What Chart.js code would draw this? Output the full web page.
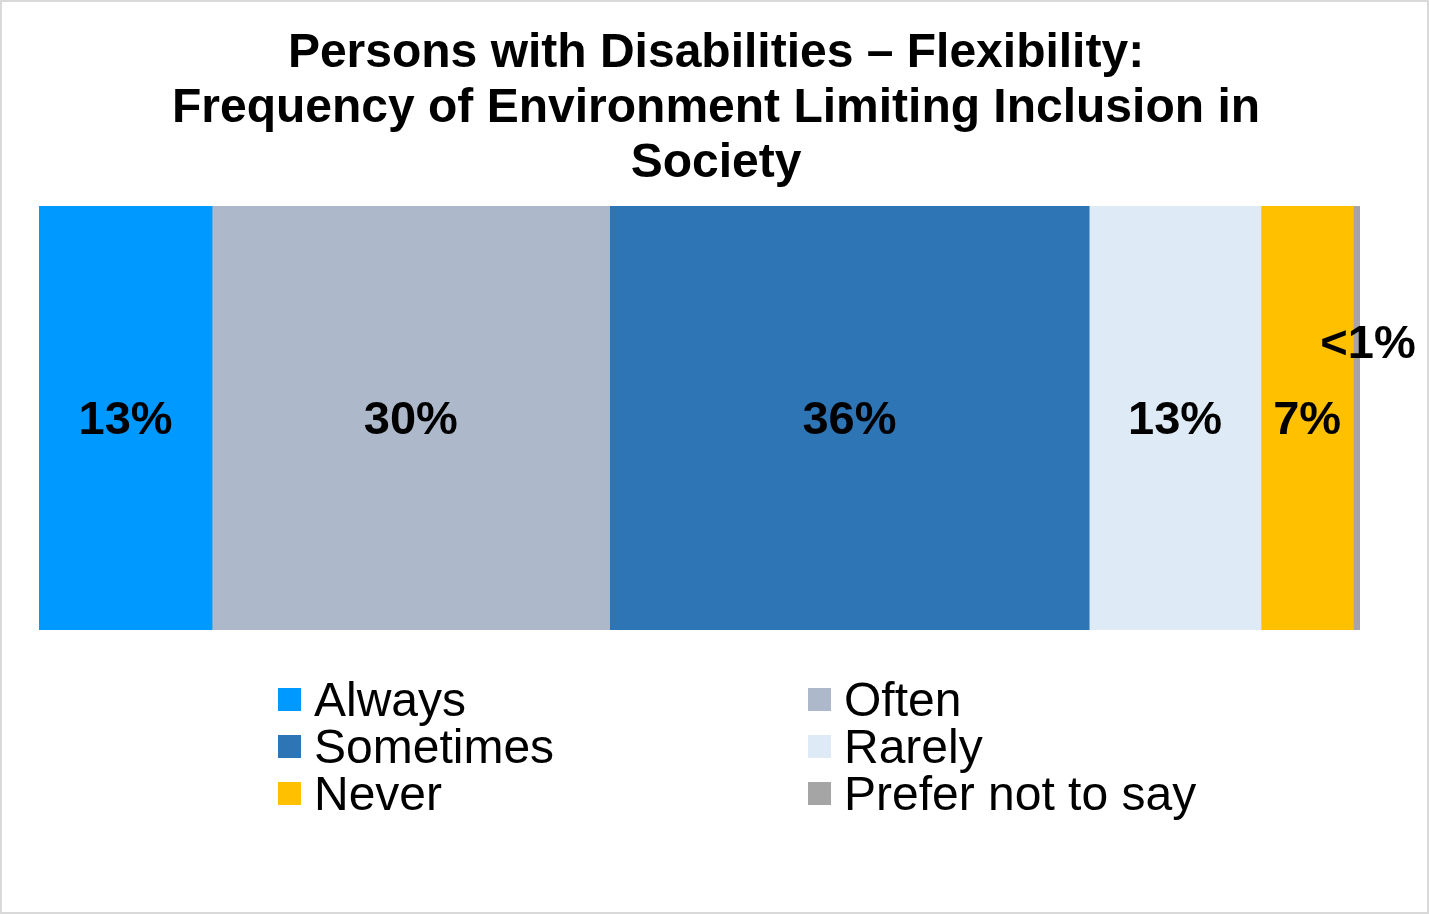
<!DOCTYPE html>
<html>
<head>
<meta charset="utf-8">
<script src="https://cdn.jsdelivr.net/npm/chart.js@4/dist/chart.umd.min.js"></script>
<style>
  body { margin: 0; background: #fff; }
  #wrap { position: relative; width: 1429px; height: 914px; }
  #frame { position: absolute; left: 0; top: 0; width: 1429px; height: 914px; box-sizing: border-box; border: 2px solid #d9d9d9; pointer-events: none; }
  #title { position: absolute; left: 0; top: 23px; width: 1432px; text-align: center; font-family: "Liberation Sans", Arial, sans-serif; font-weight: bold; font-size: 48px; line-height: 55px; color: #000; }
  #legend { position: absolute; left: 278px; top: 676px; display: grid; grid-template-columns: 530px 440px; font-family: "Liberation Sans", Arial, sans-serif; font-size: 48px; line-height: 47px; color: #000; }
  .item { display: flex; align-items: center; height: 47px; white-space: nowrap; }
  .box { width: 23px; height: 23px; margin-right: 13px; flex: none; }
</style>
</head>
<body>
<div id="wrap">
  <canvas id="chart" width="1429" height="914"></canvas>
  <div id="title"></div>
  <div id="legend"></div>
  <div id="frame"></div>
</div>
<script>
var titleLines = ['Persons with Disabilities \u2013 Flexibility:', 'Frequency of Environment Limiting Inclusion in', 'Society'];
var categories = [''];
var seriesNames = ['Always', 'Often', 'Sometimes', 'Rarely', 'Never', 'Prefer not to say'];
var seriesValues = [13.1, 30.1, 36.3, 13.0, 7.0, 0.5];
var seriesLabels = ['13%', '30%', '36%', '13%', '7%', '<1%'];
var seriesColors = ['#0099ff', '#adb9ca', '#2e75b6', '#deebf7', '#ffc000', '#a5a5a5'];

var fontFamily = '"Liberation Sans", Arial, sans-serif';

var datasets = seriesNames.map(function (name, i) {
    return {
        label: name,
        data: [seriesValues[i]],
        backgroundColor: seriesColors[i],
        borderWidth: 0,
        barPercentage: 1,
        categoryPercentage: 1
    };
});

// value labels in the middle of each segment
var segmentLabels = {
    id: 'segmentLabels',
    afterDatasetsDraw: function (chart) {
        var ctx = chart.ctx;
        ctx.save();
        ctx.font = 'bold 47px ' + fontFamily;
        ctx.fillStyle = '#000';
        ctx.textAlign = 'center';
        ctx.textBaseline = 'middle';
        chart.data.datasets.forEach(function (ds, i) {
            var bar = chart.getDatasetMeta(i).data[0];
            var x = (bar.x + bar.base) / 2;
            var y = bar.y;
            if (seriesValues[i] < 1) {
                x = bar.x + 8;
                y = bar.y - 76;
            }
            ctx.fillText(seriesLabels[i], x, y + 3);
        });
        ctx.restore();
    }
};

var chart = new Chart(document.getElementById('chart'), {
    type: 'bar',
    data: {
        labels: categories,
        datasets: datasets
    },
    options: {
        indexAxis: 'y',
        responsive: false,
        animation: false,
        layout: {
            padding: { left: 39, right: 69, top: 206, bottom: 284 }
        },
        scales: {
            x: { stacked: true, min: 0, max: 100, display: false },
            y: { stacked: true, display: false }
        },
        plugins: {
            title: { display: false },
            legend: { display: false },
            tooltip: { enabled: false }
        }
    },
    plugins: [segmentLabels]
});

// title, one line per entry
var titleEl = document.getElementById('title');
titleLines.forEach(function (line) {
    var d = document.createElement('div');
    d.textContent = line;
    titleEl.appendChild(d);
});

// legend in two columns: left Always/Sometimes/Never, right Often/Rarely/Prefer
var legendEl = document.getElementById('legend');
chart.data.datasets.forEach(function (ds) {
    var item = document.createElement('div');
    item.className = 'item';
    var box = document.createElement('span');
    box.className = 'box';
    box.style.background = ds.backgroundColor;
    var txt = document.createElement('span');
    txt.textContent = ds.label;
    item.appendChild(box);
    item.appendChild(txt);
    legendEl.appendChild(item);
});
</script>
</body>
</html>
